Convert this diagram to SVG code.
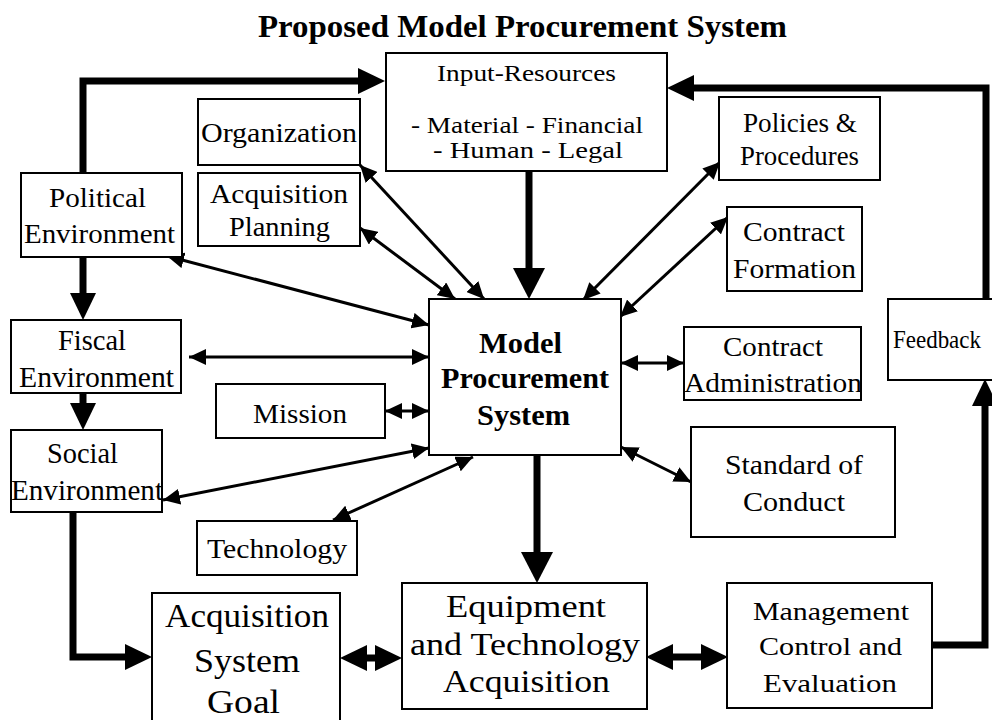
<svg xmlns="http://www.w3.org/2000/svg" width="992" height="720" viewBox="0 0 992 720">
<style>
.box{fill:#fff;stroke:#000;stroke-width:2}
.t{font-family:"Liberation Serif","Times New Roman",serif;fill:#000}
.b{font-weight:bold}
.thin{fill:none;stroke:#000;stroke-width:3}
.thick{fill:none;stroke:#000;stroke-width:7;stroke-linejoin:miter}
</style>
<defs>
<marker id="ah" viewBox="0 -8 17 16" refX="17" refY="0" markerWidth="17" markerHeight="16" markerUnits="userSpaceOnUse" orient="auto-start-reverse"><path d="M0,-8 L17,0 L0,8 z" fill="#000"/></marker>
<marker id="AH" viewBox="0 -13 27 26" refX="0" refY="0" markerWidth="27" markerHeight="26" markerUnits="userSpaceOnUse" orient="auto-start-reverse"><path d="M0,-13 L27,0 L0,13 z" fill="#000"/></marker>
<marker id="AHL" viewBox="0 -16 31 32" refX="0" refY="0" markerWidth="31" markerHeight="32" markerUnits="userSpaceOnUse" orient="auto-start-reverse"><path d="M0,-16 L31,0 L0,16 z" fill="#000"/></marker>
</defs>
<rect width="992" height="720" fill="#fff"/>
<text class="t b" x="258" y="37" font-size="31" textLength="529" lengthAdjust="spacingAndGlyphs">Proposed Model Procurement System</text>

<g id="connectors">
<path class="thick" d="M83,173 V81 H358" marker-end="url(#AH)"/>
<path class="thick" d="M986,299 V88 H694" marker-end="url(#AH)"/>
<path class="thick" d="M529,171 V268" marker-end="url(#AHL)"/>
<path class="thick" d="M83,257 V293" marker-end="url(#AH)"/>
<path class="thick" d="M83,393 V403" marker-end="url(#AH)"/>
<path class="thick" d="M73,512 V657 H125" marker-end="url(#AH)"/>
<path class="thick" d="M537,455 V552" marker-end="url(#AHL)"/>
<path class="thick" d="M367,658 H375" marker-start="url(#AH)" marker-end="url(#AH)"/>
<path class="thick" d="M673,657 H701" marker-start="url(#AH)" marker-end="url(#AH)"/>
<path class="thick" d="M932,645 H985 V406" marker-end="url(#AH)"/>
<path class="thin" d="M360,165 L484,299" marker-start="url(#ah)" marker-end="url(#ah)"/>
<path class="thin" d="M360,228 L455,299" marker-start="url(#ah)" marker-end="url(#ah)"/>
<path class="thin" d="M167,256 L429,325" marker-start="url(#ah)" marker-end="url(#ah)"/>
<path class="thin" d="M189,357 L429,357" marker-start="url(#ah)" marker-end="url(#ah)"/>
<path class="thin" d="M385,411 L429,411" marker-start="url(#ah)" marker-end="url(#ah)"/>
<path class="thin" d="M163,500 L429,448" marker-start="url(#ah)" marker-end="url(#ah)"/>
<path class="thin" d="M333,520 L473,457" marker-start="url(#ah)" marker-end="url(#ah)"/>
<path class="thin" d="M720,162 L583,300" marker-start="url(#ah)" marker-end="url(#ah)"/>
<path class="thin" d="M728,217 L620,317" marker-start="url(#ah)" marker-end="url(#ah)"/>
<path class="thin" d="M621,363 L684,363" marker-start="url(#ah)" marker-end="url(#ah)"/>
<path class="thin" d="M621,447 L691,482" marker-start="url(#ah)" marker-end="url(#ah)"/>
</g>

<g id="input-resources">
<rect class="box" x="386" y="53" width="281" height="118"/>
<text class="t" x="437" y="81" font-size="24" textLength="179" lengthAdjust="spacingAndGlyphs">Input-Resources</text>
<text class="t" x="411" y="133" font-size="24" textLength="232" lengthAdjust="spacingAndGlyphs">- Material - Financial</text>
<text class="t" x="433" y="158" font-size="24" textLength="190" lengthAdjust="spacingAndGlyphs">-  Human - Legal</text>
</g>
<g id="organization">
<rect class="box" x="198" y="99" width="162" height="66"/>
<text class="t" x="201" y="142" font-size="28" textLength="156" lengthAdjust="spacingAndGlyphs">Organization</text>
</g>
<g id="acquisition-planning">
<rect class="box" x="198" y="173" width="162" height="73"/>
<text class="t" x="210" y="203" font-size="27" textLength="138" lengthAdjust="spacingAndGlyphs">Acquisition</text>
<text class="t" x="229" y="236" font-size="27" textLength="101" lengthAdjust="spacingAndGlyphs">Planning</text>
</g>
<g id="political-environment">
<rect class="box" x="21" y="173" width="161" height="84"/>
<text class="t" x="49" y="207" font-size="28" textLength="97" lengthAdjust="spacingAndGlyphs">Political</text>
<text class="t" x="24" y="243" font-size="28" textLength="151" lengthAdjust="spacingAndGlyphs">Environment</text>
</g>
<g id="policies-procedures">
<rect class="box" x="719" y="97" width="161" height="83"/>
<text class="t" x="743" y="132" font-size="27" textLength="114" lengthAdjust="spacingAndGlyphs">Policies &amp;</text>
<text class="t" x="740" y="165" font-size="27" textLength="119" lengthAdjust="spacingAndGlyphs">Procedures</text>
</g>
<g id="contract-formation">
<rect class="box" x="727" y="207" width="135" height="84"/>
<text class="t" x="743" y="241" font-size="28" textLength="102" lengthAdjust="spacingAndGlyphs">Contract</text>
<text class="t" x="733" y="278" font-size="28" textLength="123" lengthAdjust="spacingAndGlyphs">Formation</text>
</g>
<g id="fiscal-environment">
<rect class="box" x="11" y="320" width="170" height="73"/>
<text class="t" x="58" y="350" font-size="29" textLength="68" lengthAdjust="spacingAndGlyphs">Fiscal</text>
<text class="t" x="19" y="387" font-size="29" textLength="155" lengthAdjust="spacingAndGlyphs">Environment</text>
</g>
<g id="social-environment">
<rect class="box" x="11" y="430" width="151" height="82"/>
<text class="t" x="47" y="463" font-size="29" textLength="71" lengthAdjust="spacingAndGlyphs">Social</text>
<text class="t" x="11" y="500" font-size="29" textLength="152" lengthAdjust="spacingAndGlyphs">Environment</text>
</g>
<g id="mission">
<rect class="box" x="216" y="384" width="169" height="54"/>
<text class="t" x="253" y="423" font-size="28" textLength="94" lengthAdjust="spacingAndGlyphs">Mission</text>
</g>
<g id="technology">
<rect class="box" x="197" y="521" width="160" height="54"/>
<text class="t" x="207" y="558" font-size="27" textLength="140" lengthAdjust="spacingAndGlyphs">Technology</text>
</g>
<g id="model-procurement-system">
<rect class="box" x="429" y="299" width="192" height="156"/>
<text class="t b" x="479" y="353" font-size="30" textLength="83" lengthAdjust="spacingAndGlyphs">Model</text>
<text class="t b" x="441" y="388" font-size="30" textLength="168" lengthAdjust="spacingAndGlyphs">Procurement</text>
<text class="t b" x="477" y="425" font-size="30" textLength="93" lengthAdjust="spacingAndGlyphs">System</text>
</g>
<g id="contract-administration">
<rect class="box" x="684" y="327" width="177" height="73"/>
<text class="t" x="723" y="356" font-size="28" textLength="100" lengthAdjust="spacingAndGlyphs">Contract</text>
<text class="t" x="684" y="392" font-size="28" textLength="178" lengthAdjust="spacingAndGlyphs">Administration</text>
</g>
<g id="standard-of-conduct">
<rect class="box" x="691" y="427" width="204" height="110"/>
<text class="t" x="725" y="474" font-size="28" textLength="138" lengthAdjust="spacingAndGlyphs">Standard of</text>
<text class="t" x="743" y="511" font-size="28" textLength="102" lengthAdjust="spacingAndGlyphs">Conduct</text>
</g>
<g id="feedback">
<rect class="box" x="888" y="299" width="120" height="81"/>
<text class="t" x="893" y="348" font-size="25" textLength="88" lengthAdjust="spacingAndGlyphs">Feedback</text>
</g>
<g id="acquisition-system-goal">
<rect class="box" x="152" y="593" width="188" height="140"/>
<text class="t" x="165" y="627" font-size="33" textLength="164" lengthAdjust="spacingAndGlyphs">Acquisition</text>
<text class="t" x="194" y="672" font-size="33" textLength="106" lengthAdjust="spacingAndGlyphs">System</text>
<text class="t" x="207" y="713" font-size="33" textLength="73" lengthAdjust="spacingAndGlyphs">Goal</text>
</g>
<g id="equipment-technology-acquisition">
<rect class="box" x="402" y="583" width="245" height="126"/>
<text class="t" x="446" y="617" font-size="31" textLength="160" lengthAdjust="spacingAndGlyphs">Equipment</text>
<text class="t" x="410" y="655" font-size="31" textLength="230" lengthAdjust="spacingAndGlyphs">and Technology</text>
<text class="t" x="443" y="692" font-size="31" textLength="167" lengthAdjust="spacingAndGlyphs">Acquisition</text>
</g>
<g id="management-control-evaluation">
<rect class="box" x="727" y="583" width="205" height="125"/>
<text class="t" x="753" y="620" font-size="26" textLength="156" lengthAdjust="spacingAndGlyphs">Management</text>
<text class="t" x="759" y="655" font-size="26" textLength="143" lengthAdjust="spacingAndGlyphs">Control and</text>
<text class="t" x="763" y="692" font-size="26" textLength="134" lengthAdjust="spacingAndGlyphs">Evaluation</text>
</g>
</svg>
